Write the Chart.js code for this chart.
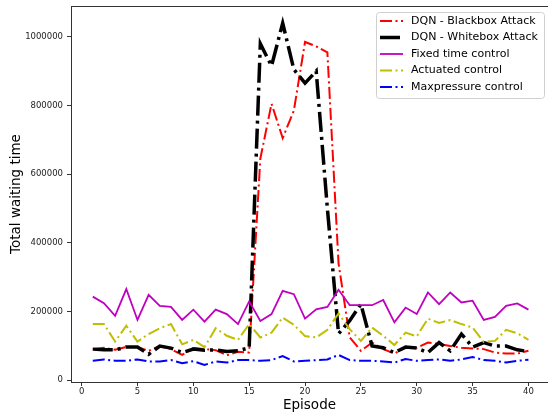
<!DOCTYPE html>
<html>
<head>
<meta charset="utf-8">
<script src="https://cdn.jsdelivr.net/npm/chart.js@4.4.1/dist/chart.umd.min.js"></script>
<style>
  html, body { margin: 0; padding: 0; background: #fff; overflow: hidden; }
  canvas { display: block; }
</style>
</head>
<body>
<canvas id="wait" width="548" height="414"></canvas>
<script>
const episodes = [1, 2, 3, 4, 5, 6, 7, 8, 9, 10, 11, 12, 13, 14, 15, 16, 17, 18, 19, 20,
    21, 22, 23, 24, 25, 26, 27, 28, 29, 30, 31, 32, 33, 34, 35, 36, 37, 38, 39, 40];

const blackbox = [90000, 94000, 88000, 96000, 96000, 85000, 99000, 90000, 73000, 93000,
    90000, 87000, 72000, 82000, 80000, 645000, 805000, 705000, 785000, 985000,
    972000, 955000, 340000, 124000, 85000, 109000, 90000, 77000, 96000, 94000,
    109000, 105000, 99000, 94000, 92000, 90000, 80000, 77000, 77000, 85000];

const whitebox = [90000, 88000, 88000, 96000, 96000, 75000, 99000, 93000, 80000, 90000,
    87000, 88000, 83000, 85000, 94000, 980000, 915000, 1040000, 905000, 865000,
    900000, 500000, 135000, 173000, 221000, 99000, 94000, 80000, 96000, 93000,
    80000, 109000, 85000, 134000, 96000, 109000, 99000, 99000, 88000, 83000];

const fixedTime = [243000, 224000, 187000, 265000, 175000, 248000, 216000, 213000, 175000, 205000,
    170000, 205000, 192000, 163000, 229000, 172000, 192000, 260000, 250000, 179000,
    206000, 213000, 263000, 218000, 218000, 218000, 233000, 168000, 211000, 192000,
    255000, 221000, 255000, 226000, 231000, 175000, 184000, 216000, 223000, 205000];

const actuated = [163000, 163000, 112000, 158000, 112000, 134000, 151000, 163000, 104000, 117000,
    96000, 151000, 129000, 117000, 163000, 124000, 138000, 182000, 161000, 128000,
    124000, 146000, 194000, 148000, 114000, 153000, 129000, 102000, 138000, 127000,
    179000, 166000, 175000, 163000, 153000, 111000, 114000, 146000, 136000, 117000];

const maxpressure = [56000, 60000, 56000, 56000, 60000, 54000, 54000, 58000, 49000, 55000,
    44000, 54000, 51000, 58000, 58000, 56000, 58000, 70000, 54000, 56000,
    58000, 60000, 73000, 58000, 56000, 56000, 54000, 51000, 61000, 56000,
    58000, 60000, 56000, 60000, 67000, 58000, 56000, 51000, 56000, 59000];

const seriesNames = ['DQN - Blackbox Attack', 'DQN - Whitebox Attack', 'Fixed time control',
    'Actuated control', 'Maxpressure control'];

const xTicks = [0, 5, 10, 15, 20, 25, 30, 35, 40];
const yTicks = [0, 200000, 400000, 600000, 800000, 1000000];

const FONT = "'DejaVu Sans', sans-serif";

function points(values) {
    return values.map((v, i) => ({ x: episodes[i], y: v }));
}

const styles = [
    { color: '#ff0000', width: 2, dash: [12, 3.5, 2, 3.5] },
    { color: '#000000', width: 3.5, dash: [20, 5, 3, 5] },
    { color: '#bf00bf', width: 1.8, dash: [] },
    { color: '#bfbf00', width: 2, dash: [12, 3.5, 2, 3.5] },
    { color: '#0000ff', width: 2, dash: [12, 3.5, 2, 3.5] }
];

const allValues = [blackbox, whitebox, fixedTime, actuated, maxpressure];

const datasets = allValues.map((vals, i) => ({
    label: seriesNames[i],
    data: points(vals),
    borderColor: styles[i].color,
    borderWidth: styles[i].width,
    borderDash: styles[i].dash,
    borderCapStyle: 'butt',
    pointRadius: 0,
    tension: 0,
    fill: false,
    order: 5 - i   // later series drawn on top, like the original
}));

// top spine and the legend box inside the plot
const framePlugin = {
    id: 'frame',
    afterDraw(chart) {
        const ctx = chart.ctx;
        const area = chart.chartArea;
        ctx.save();
        ctx.strokeStyle = '#333';
        ctx.lineWidth = 1;
        ctx.beginPath();
        ctx.moveTo(area.left, area.top + 0.5);
        ctx.lineTo(area.right, area.top + 0.5);
        ctx.stroke();

        // legend
        const bx = 376, by = 12, bw = 168, bh = 86;
        ctx.fillStyle = 'rgba(255,255,255,0.8)';
        ctx.strokeStyle = '#d0d0d0';
        ctx.beginPath();
        ctx.roundRect(bx + 0.5, by + 0.5, bw, bh, 3);
        ctx.fill();
        ctx.stroke();

        ctx.font = '11px ' + FONT;
        ctx.textBaseline = 'middle';
        ctx.textAlign = 'left';
        seriesNames.forEach((name, i) => {
            const y = 21 + i * 16.5;
            ctx.strokeStyle = styles[i].color;
            ctx.lineWidth = styles[i].width;
            ctx.setLineDash(styles[i].dash);
            ctx.lineCap = 'butt';
            ctx.beginPath();
            ctx.moveTo(380, y);
            ctx.lineTo(403, y);
            ctx.stroke();
            ctx.setLineDash([]);
            ctx.fillStyle = '#000';
            ctx.fillText(name, 411, y);
        });
        ctx.restore();
    }
};

const ctx = document.getElementById('wait').getContext('2d');
new Chart(ctx, {
    type: 'line',
    data: { datasets: datasets },
    options: {
        responsive: false,
        animation: false,
        devicePixelRatio: 1,
        layout: { padding: { top: 6, right: 0, left: 0, bottom: 0 } },
        plugins: {
            legend: { display: false },
            tooltip: { enabled: false }
        },
        scales: {
            x: {
                type: 'linear',
                min: -0.95,
                max: 41.75,
                afterBuildTicks: scale => { scale.ticks = xTicks.map(v => ({ value: v })); },
                afterFit: scale => {
                    scale.height = 32;
                    scale.paddingLeft = 0;
                    scale.paddingRight = 0;
                },
                ticks: {
                    autoSkip: false,
                    maxRotation: 0,
                    padding: 1,
                    color: '#222',
                    font: { family: FONT, size: 8.5 }
                },
                grid: { drawOnChartArea: false, drawTicks: true, tickLength: 4, tickColor: '#333' },
                border: { display: true, color: '#333', width: 1 },
                title: {
                    display: true,
                    text: 'Episode',
                    color: '#000',
                    font: { family: FONT, size: 13.5 },
                    padding: { top: 3, bottom: 0 }
                }
            },
            y: {
                type: 'linear',
                min: -5800,
                max: 1089800,
                afterBuildTicks: scale => { scale.ticks = yTicks.map(v => ({ value: v })); },
                afterFit: scale => {
                    scale.width = 71;
                    scale.paddingTop = 0;
                    scale.paddingBottom = 0;
                },
                ticks: {
                    autoSkip: false,
                    padding: 4,
                    color: '#222',
                    font: { family: FONT, size: 8.5 },
                    callback: v => String(v)
                },
                grid: { drawOnChartArea: false, drawTicks: true, tickLength: 4, tickColor: '#333' },
                border: { display: true, color: '#333', width: 1 },
                title: {
                    display: true,
                    text: 'Total waiting time',
                    color: '#000',
                    font: { family: FONT, size: 13.5 },
                    padding: { top: 8, bottom: 0 }
                }
            }
        }
    },
    plugins: [framePlugin]
});
</script>
</body>
</html>
